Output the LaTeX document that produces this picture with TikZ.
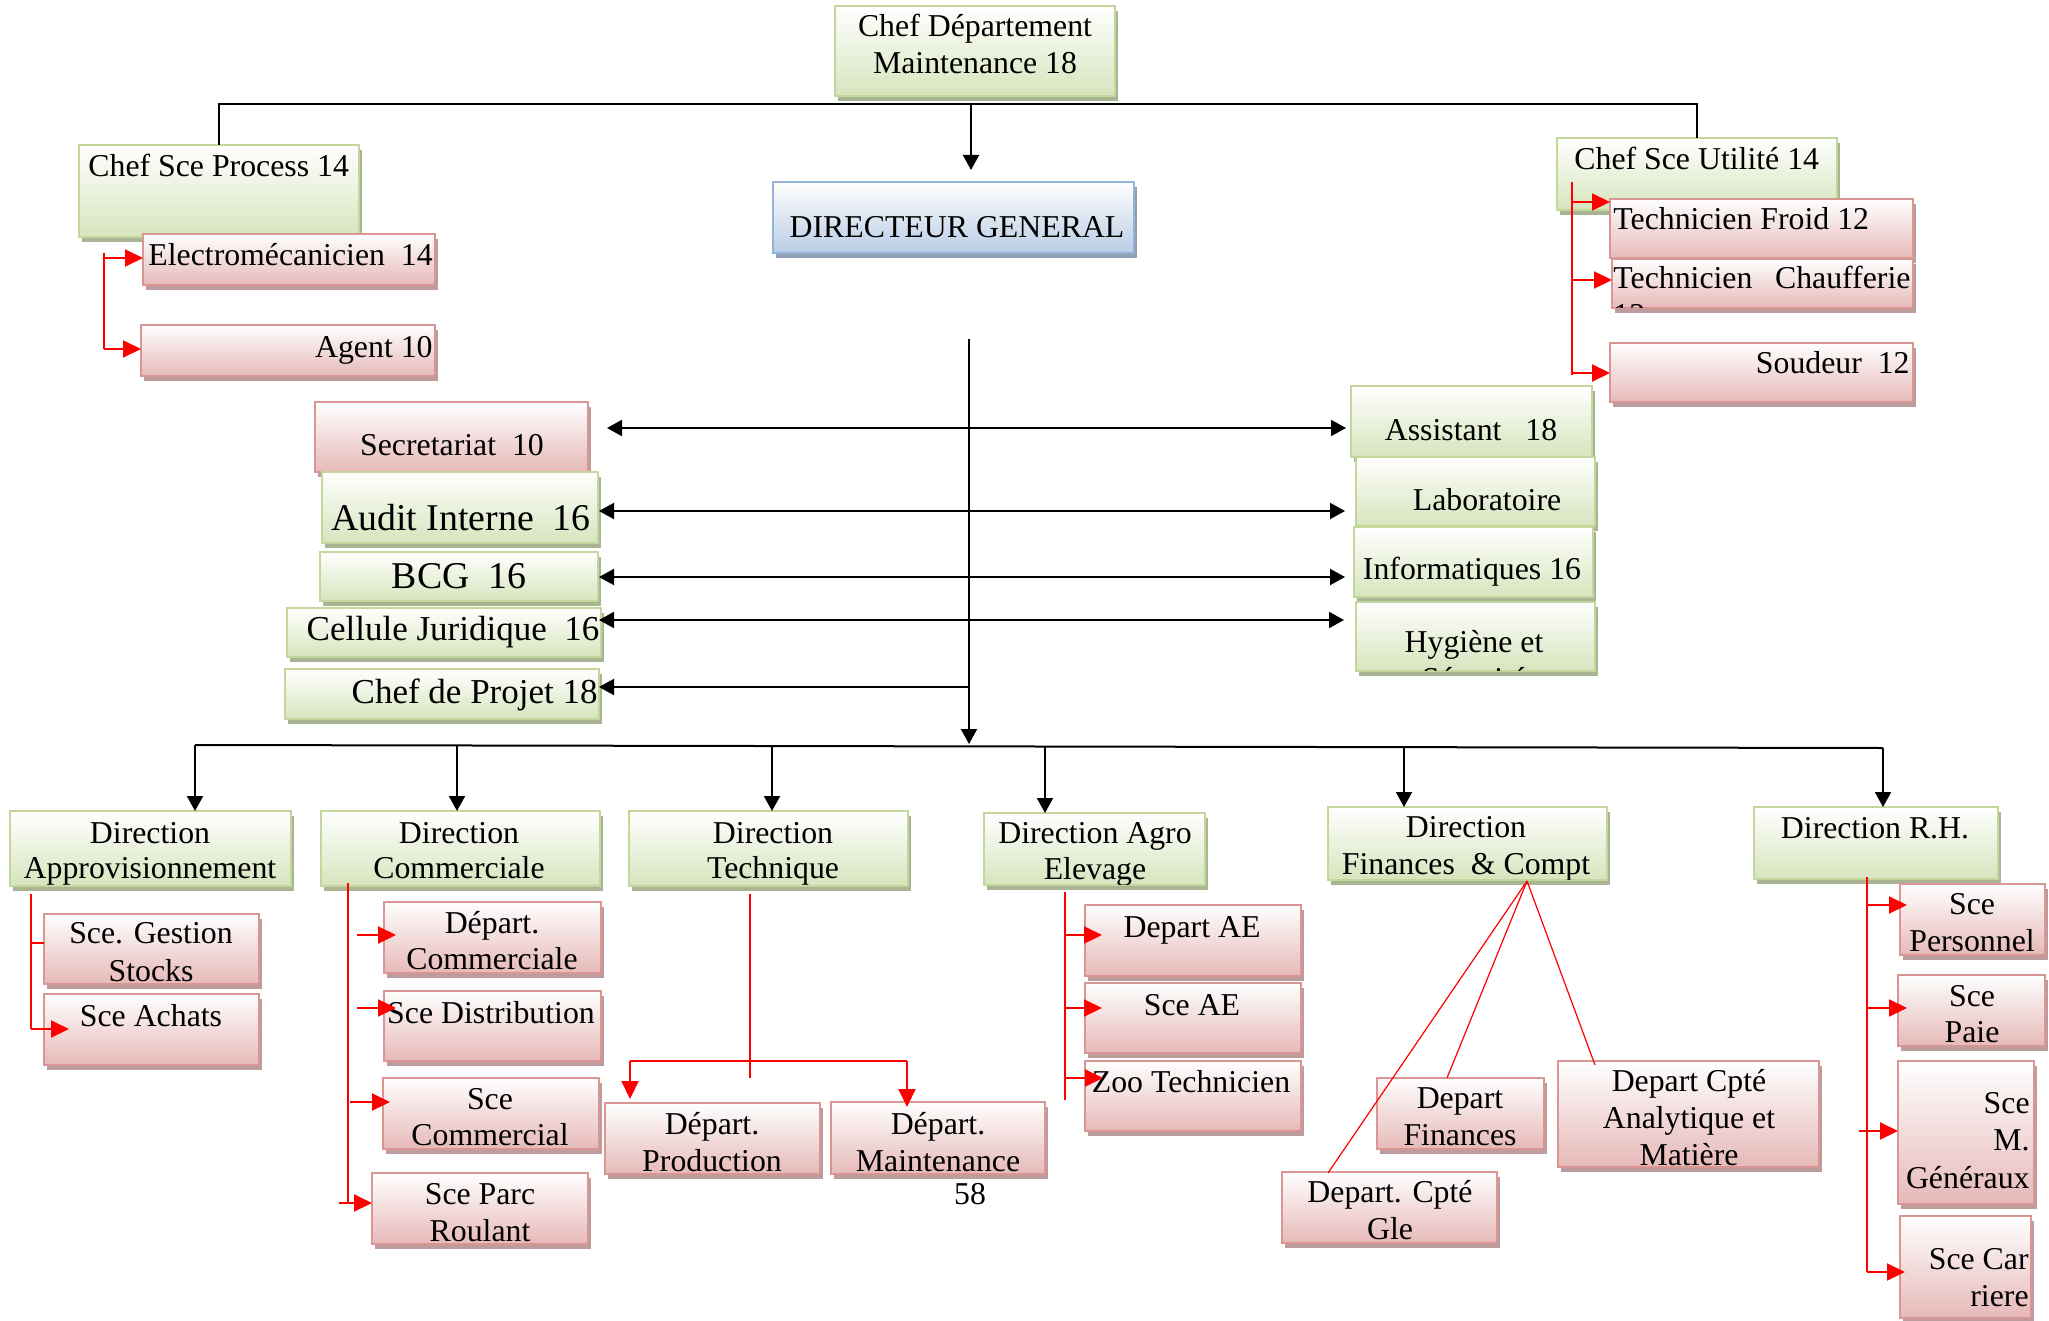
\documentclass[tikz,border=0pt]{standalone}
\usepackage{fontspec}
\setmainfont{Liberation Serif}
\usetikzlibrary{arrows.meta,fit,shadows}

% box colours: fill (bottom of gradient), border, shadow
\definecolor{gF}{HTML}{D7E4BD}
\definecolor{gB}{HTML}{C3D69B}
\definecolor{gS}{HTML}{A9B592}
\definecolor{pF}{HTML}{E6B9B8}
\definecolor{pB}{HTML}{D99694}
\definecolor{pS}{HTML}{BC9C9D}
\definecolor{bF}{HTML}{B9CDE5}
\definecolor{bB}{HTML}{95B3D7}
\definecolor{bS}{HTML}{8FA0B7}
\definecolor{rL}{HTML}{FF0000}

\newcommand\tnorm{\fontsize{15.9pt}{18pt}\selectfont}
\newcommand\tmid{\fontsize{17.5pt}{20pt}\selectfont}
\newcommand\tbig{\fontsize{18.9pt}{22pt}\selectfont}

\tikzset{
  card/.style={line width=1pt, inner sep=0pt, outer sep=0pt},
  gbox/.style={card, draw=gB, top color=white, bottom color=gF,
    drop shadow={shadow xshift=1.5pt, shadow yshift=-2.5pt, fill=gS, opacity=1}},
  pbox/.style={card, draw=pB, top color=white, bottom color=pF,
    drop shadow={shadow xshift=1.5pt, shadow yshift=-2.5pt, fill=pS, opacity=1}},
  bbox/.style={card, draw=bB, top color=white, bottom color=bF,
    drop shadow={shadow xshift=1.5pt, shadow yshift=-2.5pt, fill=bS, opacity=1}},
  tx/.style={inner sep=0pt, font=\tnorm, anchor=base},
  txl/.style={tx, anchor=base west},
  txr/.style={tx, anchor=base east},
  mid/.style={font=\tmid},
  big/.style={font=\tbig},
  blk/.style={line width=1pt, black},
  arr/.style={-{Triangle[length=7.5pt,width=8pt]}},
  darr/.style={{Triangle[length=7.5pt,width=8pt]}-{Triangle[length=7.5pt,width=8pt]}},
  rl/.style={line width=1pt, rL},
  rarr/.style={rl, -{Triangle[length=9pt,width=8.5pt]}},
  rthin/.style={line width=0.6pt, rL},
}

\begin{document}
\begin{tikzpicture}[x=0.5pt, y=-0.5pt]
\useasboundingbox (0,0) rectangle (2049,1321);

% ---------- head ----------
\node[gbox, fit={(835,6) (1115,96)}] (cdept) {};
\node[tx] (cdept-a) at (975,37) {Chef Département};
\node[tx] (cdept-b) at (975,74) {Maintenance 18};

\node[bbox, fit={(773,182) (1134,253)}] (dg) {};
\node[tx] (dg-a) at (957,237) {DIRECTEUR GENERAL};

% ---------- process service ----------
\node[gbox, fit={(79,145) (359,237)}] (csp) {};
\node[txl] (csp-a) at (88,177) {Chef Sce Process 14};
\node[pbox, fit={(143,234) (435,285)}] (elec) {};
\node[txl] (elec-a) at (148,265) {Electromécanicien\ \ 14};
\node[pbox, fit={(141,325) (435,376)}] (agent) {};
\node[txr] (agent-a) at (433,357) {Agent 10};

% ---------- utilities service ----------
\node[gbox, fit={(1557,138) (1837,210)}] (cutil) {};
\node[txl] (cutil-a) at (1574,170) {Chef Sce Utilité 14};
\node[pbox, fit={(1610,199) (1913,258)}] (tfroid) {};
\node[txl] (tfroid-a) at (1613,230) {Technicien Froid 12};
\node[pbox, fit={(1612,259) (1913,308)}] (tchauf) {};
\begin{scope}
  \clip (1613,260) rectangle (1912,307);
  \node[txl] (tchauf-a) at (1613,288) {\makebox[148.5pt][s]{Technicien Chaufferie}};
  \node[txl] (tchauf-b) at (1613,325) {12};
\end{scope}
\node[pbox, fit={(1610,343) (1913,402)}] (soud) {};
\node[txr] (soud-a) at (1910,373) {Soudeur\ \ 12};

% top bus
\draw[blk] (csp.north) -- ++(0,-41) -| (cutil.north);
\coordinate (dg-in) at (971,104);
\draw[blk, arr] (dg-in) -- ++(0,66);

% ---------- staff units, left ----------
\node[pbox, fit={(315,402) (588,472)}] (secr) {};
\node[tx] (secr-a) at (452,455) {Secretariat\ \ 10};
\node[gbox, fit={(322,472) (598,543)}] (audit) {};
\node[tx, big] (audit-a) at (461,530) {Audit Interne\ \ 16};
\node[gbox, fit={(320,552) (598,601)}] (bcg) {};
\node[tx, big] (bcg-a) at (459,588) {BCG\ \ 16};
\node[gbox, fit={(287,608) (601,657)}] (cell) {};
\node[tx, mid] (cell-a) at (453,640) {Cellule Juridique\ \ 16};
\node[gbox, fit={(285,669) (599,719)}] (cproj) {};
\node[txr, mid] (cproj-a) at (598,703) {Chef de Projet 18};

% ---------- staff units, right ----------
\node[gbox, fit={(1351,386) (1592,457)}] (assist) {};
\node[tx] (assist-a) at (1471,440) {Assistant\ \ \ 18};
\node[gbox, fit={(1356,457) (1595,526)}] (labo) {};
\node[tx] (labo-a) at (1487,510) {Laboratoire};
\node[gbox, fit={(1354,527) (1593,597)}] (info) {};
\node[tx] (info-a) at (1472,579) {Informatiques 16};
\node[gbox, fit={(1356,602) (1595,671)}] (hyg) {};
\begin{scope}
  \clip (1357,603) rectangle (1594,670);
  \node[tx] (hyg-a) at (1474,652) {Hygiène et};
  \node[tx] (hyg-b) at (1474,689) {Sécurité};
\end{scope}

% central spine and staff links
\coordinate (sp-top) at (969,339);
\coordinate (sp-bot) at (969,744);
\draw[blk, arr] (sp-top) -- (sp-bot);
\draw[blk, darr] (607,428) -- (1346,428);
\draw[blk, darr] (599,511) -- (1345,511);
\draw[blk, darr] (599,577) -- (1345,577);
\draw[blk, darr] (599,620) -- (1344,620);
\coordinate (sp-proj) at (969,687);
\draw[blk, arr] (sp-proj) -- (599,687);

% ---------- directions ----------
\node[gbox, fit={(10,811) (291,886)}] (dappro) {};
\begin{scope}
  \clip (11,812) rectangle (290,885);
  \node[tx] (dappro-a) at (150,843) {Direction};
  \node[tx] (dappro-b) at (150,878) {Approvisionnement};
\end{scope}
\node[gbox, fit={(321,811) (600,886)}] (dcomm) {};
\node[tx] (dcomm-a) at (459,843) {Direction};
\node[tx] (dcomm-b) at (459,878) {Commerciale};
\node[gbox, fit={(629,811) (908,886)}] (dtech) {};
\begin{scope}
  \clip (630,812) rectangle (907,885);
  \node[tx] (dtech-a) at (773,843) {Direction};
  \node[tx] (dtech-b) at (773,878) {Technique};
\end{scope}
\node[gbox, fit={(984,813) (1205,885)}] (dagro) {};
\begin{scope}
  \clip (985,814) rectangle (1204,884);
  \node[tx] (dagro-a) at (1095,843) {Direction Agro};
  \node[tx] (dagro-b) at (1095,879) {Elevage};
\end{scope}
\node[gbox, fit={(1328,807) (1607,880)}] (dfin) {};
\begin{scope}
  \clip (1329,808) rectangle (1606,879);
  \node[tx] (dfin-a) at (1466,837) {Direction};
  \node[tx] (dfin-b) at (1466,874) {Finances\ \ \& Compt};
\end{scope}
\node[gbox, fit={(1754,807) (1998,879)}] (drh) {};
\node[tx] (drh-a) at (1875,838) {Direction R.H.};

% lower bus
\coordinate (bus-l) at (195,745);
\coordinate (bus-r) at (1883,748);
\draw[blk] (bus-l) -- (bus-r);
\draw[blk, arr] (bus-l) -- (bus-l |- dappro.north);
\coordinate (bus-c) at (457,745);
\draw[blk, arr] (bus-c) -- (bus-c |- dcomm.north);
\coordinate (bus-t) at (772,746);
\draw[blk, arr] (bus-t) -- (bus-t |- dtech.north);
\coordinate (bus-a) at (1045,747);
\draw[blk, arr] (bus-a) -- (bus-a |- dagro.north);
\coordinate (bus-f) at (1404,747);
\draw[blk, arr] (bus-f) -- (bus-f |- dfin.north);
\draw[blk, arr] (bus-r) -- (bus-r |- drh.north);

% ---------- supply ----------
\node[pbox, fit={(44,914) (259,984)}] (sgs) {};
\node[tx] (sgs-a) at (151,943) {Sce. Gestion};
\node[tx] (sgs-b) at (151,981) {Stocks};
\node[pbox, fit={(44,994) (259,1065)}] (sach) {};
\node[tx] (sach-a) at (151,1026) {Sce Achats};

% ---------- commercial ----------
\node[pbox, fit={(384,902) (601,973)}] (dpcom) {};
\node[tx] (dpcom-a) at (492,933) {Départ.};
\node[tx] (dpcom-b) at (492,969) {Commerciale};
\node[pbox, fit={(384,991) (601,1061)}] (sdist) {};
\node[tx] (sdist-a) at (491,1023) {Sce Distribution};
\node[pbox, fit={(383,1078) (599,1149)}] (scom) {};
\node[tx] (scom-a) at (490,1109) {Sce};
\node[tx] (scom-b) at (490,1145) {Commercial};
\node[pbox, fit={(372,1173) (588,1244)}] (sparc) {};
\node[tx] (sparc-a) at (480,1204) {Sce Parc};
\node[tx] (sparc-b) at (480,1241) {Roulant};

% ---------- technical ----------
\node[pbox, fit={(605,1103) (820,1174)}] (dprod) {};
\node[tx] (dprod-a) at (712,1134) {Départ.};
\node[tx] (dprod-b) at (712,1171) {Production};
\node[pbox, fit={(831,1102) (1045,1174)}] (dmaint) {};
\node[tx] (dmaint-a) at (938,1134) {Départ.};
\node[tx] (dmaint-b) at (938,1171) {Maintenance};
\node[tx] (pnum) at (970,1204) {58};

% ---------- agro ----------
\node[pbox, fit={(1085,905) (1301,976)}] (dae) {};
\node[tx] (dae-a) at (1192,937) {Depart AE};
\node[pbox, fit={(1085,983) (1301,1053)}] (sae) {};
\node[tx] (sae-a) at (1192,1015) {Sce AE};
\node[pbox, fit={(1085,1061) (1301,1131)}] (zoo) {};
\node[tx] (zoo-a) at (1191,1092) {Zoo Technicien};

% ---------- finance ----------
\node[pbox, fit={(1377,1078) (1544,1149)}] (dfina) {};
\node[tx] (dfina-a) at (1460,1108) {Depart};
\node[tx] (dfina-b) at (1460,1145) {Finances};
\node[pbox, fit={(1558,1061) (1819,1167)}] (dcpa) {};
\node[tx] (dcpa-a) at (1689,1091) {Depart Cpté};
\node[tx] (dcpa-b) at (1689,1128) {Analytique et};
\node[tx] (dcpa-c) at (1689,1165) {Matière};
\node[pbox, fit={(1282,1172) (1497,1243)}] (dcg) {};
\node[tx] (dcg-a) at (1390,1202) {Depart. Cpté};
\node[tx] (dcg-b) at (1390,1239) {Gle};

% ---------- human resources ----------
\node[pbox, fit={(1900,884) (2045,955)}] (sper) {};
\node[tx] (sper-a) at (1972,914) {Sce};
\node[tx] (sper-b) at (1972,951) {Personnel};
\node[pbox, fit={(1898,975) (2045,1046)}] (spaie) {};
\node[tx] (spaie-a) at (1972,1006) {Sce};
\node[tx] (spaie-b) at (1972,1042) {Paie};
\node[pbox, fit={(1898,1061) (2034,1204)}] (smg) {};
\node[txr] (smg-a) at (2030,1113) {Sce};
\node[txr] (smg-b) at (2030,1150) {M.};
\node[txr] (smg-c) at (2030,1188) {Généraux};
\node[pbox, fit={(1900,1216) (2031,1318)}] (scar) {};
\node[txr] (scar-a) at (2029,1269) {Sce Car};
\node[txr] (scar-b) at (2029,1306) {riere};

% ---------- red links ----------
% process
\coordinate (rp-t) at (104,253);
\coordinate (rp-b) at (104,349);
\draw[rl] (rp-t) -- (rp-b);
\draw[rarr] (104,258) -- (elec.west |- 0,258);
\draw[rarr] (rp-b) -- (agent.west |- rp-b);
% utilities
\coordinate (ru-t) at (1572,182);
\coordinate (ru-b) at (1572,375);
\draw[rl] (ru-t) -- (ru-b);
\draw[rarr] (1572,202) -- (tfroid.west |- 0,202);
\draw[rarr] (1572,280) -- (tchauf.west |- 0,280);
\draw[rarr] (1572,373) -- (soud.west |- 0,373);
% supply
\coordinate (ra-t) at (31,894);
\coordinate (ra-b) at (31,1029);
\draw[rl] (ra-t) -- (ra-b);
\draw[rl] (31,943) -- (sgs.west |- 0,943);
\draw[rarr] (ra-b) -- (69,1029);
% commercial
\coordinate (rc-t) at (348,883);
\coordinate (rc-b) at (348,1203);
\draw[rl] (rc-t) -- (rc-b);
\draw[rarr] (357,935) -- (396,935);
\draw[rarr] (357,1008) -- (396,1008);
\draw[rarr] (350,1102) -- (390,1102);
\draw[rarr] (339,1203) -- (sparc.west |- 0,1203);
% technical
\coordinate (rt-t) at (750,894);
\coordinate (rt-b) at (750,1078);
\draw[rl] (rt-t) -- (rt-b);
\coordinate (rt-l) at (630,1061);
\coordinate (rt-r) at (907,1061);
\draw[rl] (rt-l) -- (rt-r);
\draw[rarr] (rt-l) -- (630,1099);
\draw[rarr] (rt-r) -- (907,1107);
% agro
\coordinate (rg-t) at (1065,892);
\coordinate (rg-b) at (1065,1100);
\draw[rl] (rg-t) -- (rg-b);
\draw[rarr] (1065,935) -- (1102,935);
\draw[rarr] (1065,1008) -- (1102,1008);
\draw[rarr] (1065,1078) -- (1103,1078);
% finance
\coordinate (rf) at (1527,881);
\draw[rthin] (rf) -- (1328,1173);
\draw[rthin] (rf) -- (1447,1078);
\draw[rthin] (rf) -- (1595,1065);
% human resources
\coordinate (rh-t) at (1867,877);
\coordinate (rh-b) at (1867,1272);
\draw[rl] (rh-t) -- (rh-b);
\draw[rarr] (1867,905) -- (1907,905);
\draw[rarr] (1867,1008) -- (1907,1008);
\draw[rarr] (1859,1131) -- (smg.west |- 0,1131);
\draw[rarr] (rh-b) -- (1905,1272);

\end{tikzpicture}
\end{document}
